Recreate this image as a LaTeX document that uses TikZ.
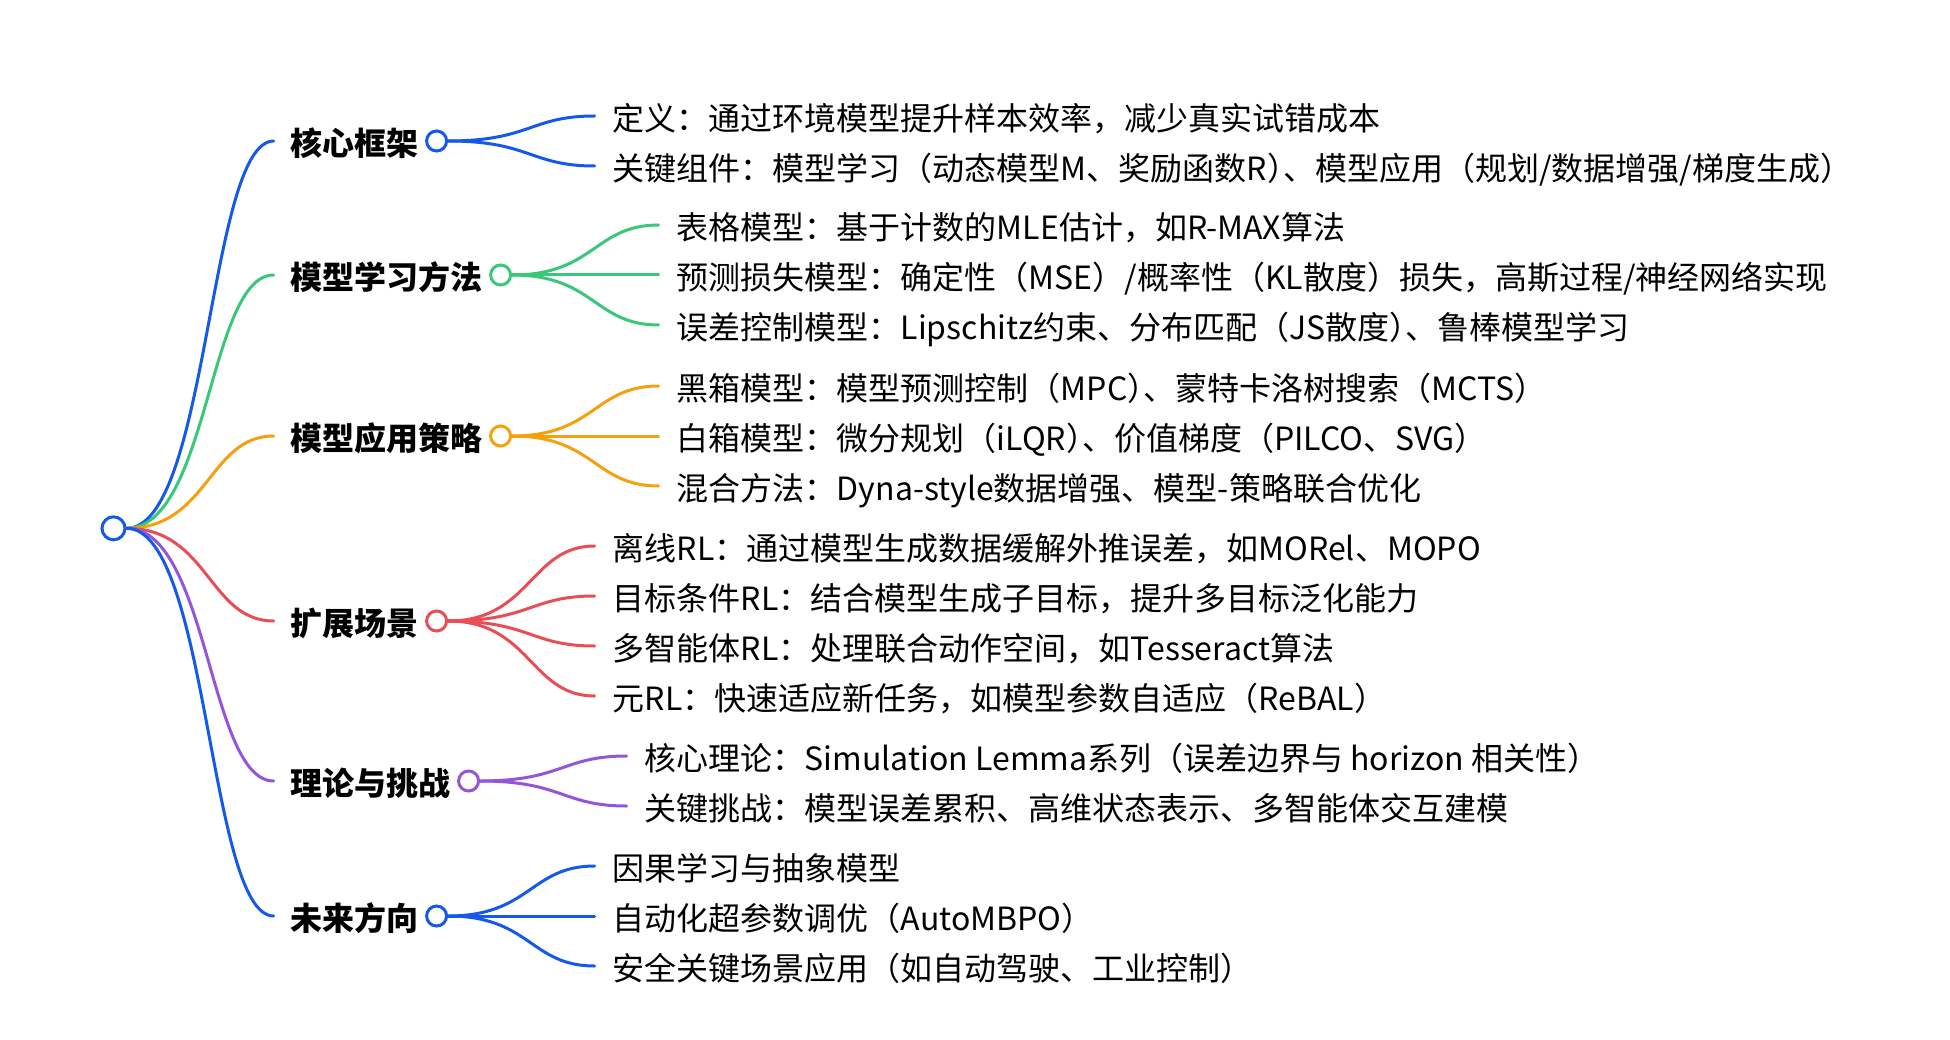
\documentclass[tikz,border=0pt]{standalone}
\usepackage{fontspec}
\setmainfont{Noto Sans CJK SC}
\usetikzlibrary{positioning,calc}
\definecolor{mblue}{HTML}{1559EA}
\definecolor{mgreen}{HTML}{38C878}
\definecolor{morange}{HTML}{F5A00F}
\definecolor{mred}{HTML}{E84E57}
\definecolor{mpurple}{HTML}{9356DA}
\newcommand{\rpdun}{）\kern-.5em、}

\begin{document}
\begin{tikzpicture}[x=1pt,y=-1pt,
    hub/.style={circle,draw=mblue,fill=white,line width=3pt,minimum size=23pt,inner sep=0pt},
    dot/.style={circle,draw,fill=white,line width=3pt,minimum size=20pt,inner sep=0pt},
    topic/.style={anchor=west,inner sep=0pt,text height=29pt,text depth=0pt,font=\fontsize{32}{38}\selectfont\bfseries},
    leaf/.style={anchor=west,inner sep=0pt,text height=29pt,text depth=0pt,font=\fontsize{32}{38}\selectfont},
    branch/.style={line width=3pt,line cap=round,to path={let \p1=(\tikztostart),\p2=(\tikztotarget) in .. controls ({(\x1+\x2)/2},\y1) and ({(\x1+\x2)/2},\y2) .. (\tikztotarget)}},
    ]
    \useasboundingbox (0,0) rectangle (1950,1040);

    \node[hub] (root) at (113.5,528.3) {};

    \node[topic] (c1) at (290.7,141) {核心框架};
    \node[topic] (c2) at (290.7,275) {模型学习方法};
    \node[topic] (c3) at (290.7,436) {模型应用策略};
    \node[topic] (c4) at (290.7,621) {扩展场景};
    \node[topic] (c5) at (290.7,781) {理论与挑战};
    \node[topic] (c6) at (290.7,916) {未来方向};

    \node[dot,draw=mblue,right=6pt of c1] (d1) {};
    \node[dot,draw=mgreen,right=6pt of c2] (d2) {};
    \node[dot,draw=morange,right=6pt of c3] (d3) {};
    \node[dot,draw=mred,right=6pt of c4] (d4) {};
    \node[dot,draw=mpurple,right=6pt of c5] (d5) {};
    \node[dot,draw=mblue,right=6pt of c6] (d6) {};

    \path (d1) ++(176,-25) node[leaf] (l11) {定义：通过环境模型提升样本效率，减少真实试错成本};
    \path (d1) ++(176,25) node[leaf] (l12) {关键组件：模型学习（动态模型M、奖励函数R\rpdun 模型应用（规划/数据增强/梯度生成）};

    \path (d2) ++(176,-50) node[leaf] (l21) {表格模型：基于计数的MLE估计，如R-MAX算法};
    \path (d2) ++(176,0) node[leaf] (l22) {预测损失模型：确定性（MSE）/概率性（KL散度）损失，高斯过程/神经网络实现};
    \path (d2) ++(176,50) node[leaf] (l23) {误差控制模型：Lipschitz约束、分布匹配（JS散度\rpdun 鲁棒模型学习};

    \path (d3) ++(176,-50) node[leaf] (l31) {黑箱模型：模型预测控制（MPC\rpdun 蒙特卡洛树搜索（MCTS）};
    \path (d3) ++(176,0) node[leaf] (l32) {白箱模型：微分规划（iLQR\rpdun 价值梯度（PILCO、SVG）};
    \path (d3) ++(176,50) node[leaf] (l33) {混合方法：Dyna-style数据增强、模型-策略联合优化};

    \path (d4) ++(176,-75) node[leaf] (l41) {离线RL：通过模型生成数据缓解外推误差，如MORel、MOPO};
    \path (d4) ++(176,-25) node[leaf] (l42) {目标条件RL：结合模型生成子目标，提升多目标泛化能力};
    \path (d4) ++(176,25) node[leaf] (l43) {多智能体RL：处理联合动作空间，如Tesseract算法};
    \path (d4) ++(176,75) node[leaf] (l44) {元RL：快速适应新任务，如模型参数自适应（ReBAL）};

    \path (d5) ++(176,-25) node[leaf] (l51) {核心理论：Simulation Lemma系列（误差边界与 horizon 相关性）};
    \path (d5) ++(176,25) node[leaf] (l52) {关键挑战：模型误差累积、高维状态表示、多智能体交互建模};

    \path (d6) ++(176,-50) node[leaf] (l61) {因果学习与抽象模型};
    \path (d6) ++(176,0) node[leaf] (l62) {自动化超参数调优（AutoMBPO）};
    \path (d6) ++(176,50) node[leaf] (l63) {安全关键场景应用（如自动驾驶、工业控制）};

    \draw[branch,mblue,shorten >=17pt] (root.east) to (c1.west);
    \draw[branch,mgreen,shorten >=17pt] (root.east) to (c2.west);
    \draw[branch,morange,shorten >=17pt] (root.east) to (c3.west);
    \draw[branch,mred,shorten >=17pt] (root.east) to (c4.west);
    \draw[branch,mpurple,shorten >=17pt] (root.east) to (c5.west);
    \draw[branch,mblue,shorten >=17pt] (root.east) to (c6.west);

    \draw[branch,mblue,shorten >=18pt] (d1.east) to (l11.west);
    \draw[branch,mblue,shorten >=18pt] (d1.east) to (l12.west);
    \draw[branch,mgreen,shorten >=18pt] (d2.east) to (l21.west);
    \draw[branch,mgreen,shorten >=18pt] (d2.east) to (l22.west);
    \draw[branch,mgreen,shorten >=18pt] (d2.east) to (l23.west);
    \draw[branch,morange,shorten >=18pt] (d3.east) to (l31.west);
    \draw[branch,morange,shorten >=18pt] (d3.east) to (l32.west);
    \draw[branch,morange,shorten >=18pt] (d3.east) to (l33.west);
    \draw[branch,mred,shorten >=18pt] (d4.east) to (l41.west);
    \draw[branch,mred,shorten >=18pt] (d4.east) to (l42.west);
    \draw[branch,mred,shorten >=18pt] (d4.east) to (l43.west);
    \draw[branch,mred,shorten >=18pt] (d4.east) to (l44.west);
    \draw[branch,mpurple,shorten >=18pt] (d5.east) to (l51.west);
    \draw[branch,mpurple,shorten >=18pt] (d5.east) to (l52.west);
    \draw[branch,mblue,shorten >=18pt] (d6.east) to (l61.west);
    \draw[branch,mblue,shorten >=18pt] (d6.east) to (l62.west);
    \draw[branch,mblue,shorten >=18pt] (d6.east) to (l63.west);
\end{tikzpicture}
\end{document}
